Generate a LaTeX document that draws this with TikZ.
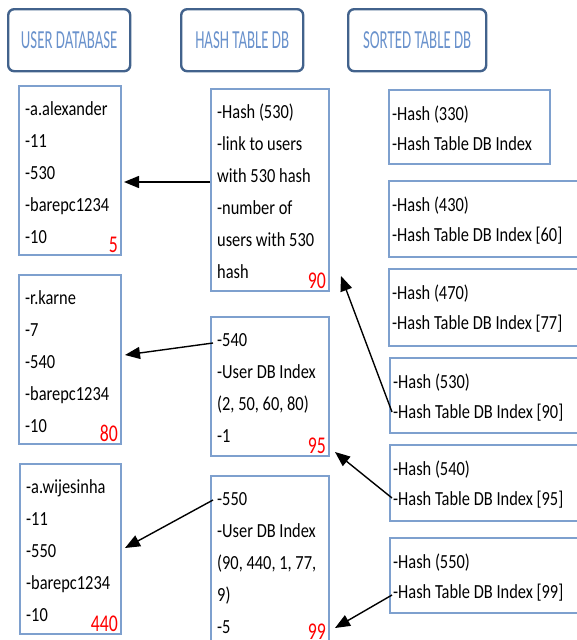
\documentclass[tikz,border=0pt]{standalone}
\usepackage{fontspec}
\setmainfont{Carlito}
\newfontfamily\boxFont[FakeStretch=0.82]{Carlito}
\newfontfamily\headFont[FakeStretch=0.57]{Carlito}
\newfontfamily\countFont[FakeStretch=0.74]{Carlito}
\usetikzlibrary{positioning,calc,arrows.meta}
\definecolor{boxColor}{RGB}{126,160,206}
\definecolor{headLine}{RGB}{66,98,140}
\definecolor{headText}{RGB}{106,146,204}
\definecolor{countColor}{RGB}{255,0,0}
\tikzstyle{headStyle} = [draw=headLine, line width=2.4pt, rounded corners=6pt, text=headText, font=\headFont\fontsize{26}{26}\selectfont, inner sep=0pt, anchor=north west]
\tikzstyle{boxStyle} = [draw=boxColor, line width=2pt, inner sep=0pt, anchor=north west]
\tikzstyle{lineText} = [anchor=north west, align=left, inner sep=0pt, font=\boxFont\fontsize{20}{32}\selectfont]
\tikzstyle{sortedText} = [lineText, font=\boxFont\fontsize{20}{30}\selectfont]
\tikzstyle{countText} = [anchor=south east, inner sep=0pt, text=countColor, font=\countFont\fontsize{24}{24}\selectfont]
\tikzstyle{linkArrow} = [-{Triangle[length=15pt,width=12pt]}, line width=1.4pt]
\newcommand{\headBox}[6]{\node [headStyle, minimum width=#4, minimum height=#5] (#1) at (#2,#3) {#6};}
\newcommand{\dbBox}[7]{
  \node [boxStyle, minimum width=#4, minimum height=#5] (#1) at (#2,#3) {};
  \node [lineText] (#1Text) at ($(#1.north west)+(7,8)$) {\strut#6};
  \node [countText] (#1Count) at ($(#1.south east)+(-4,-3)$) {#7};
}
\newcommand{\sortedBox}[6]{
  \node [boxStyle, minimum width=#4, minimum height=#5] (#1) at (#2,#3) {};
  \node [sortedText] (#1Text) at ($(#1.north west)+(4,10)$) {\strut#6};
}

\begin{document}
\begin{tikzpicture}[x=1pt, y=-1pt]
  \clip (0,0) rectangle (577,640);

  \headBox{userHead}{7}{8}{122}{62}{USER DATABASE}
  \headBox{hashHead}{180}{8}{122}{62}{HASH TABLE DB}
  \headBox{sortedHead}{347}{8}{138}{62}{SORTED TABLE DB}

  \dbBox{user1}{18}{85}{102}{169}{-a.alexander\\-11\\-530\\-barepc1234\\-10}{5}
  \dbBox{user2}{18}{274}{102}{169}{-r.karne\\-7\\-540\\-barepc1234\\-10}{80}
  \dbBox{user3}{19}{463}{101}{170}{-a.wijesinha\\-11\\-550\\-barepc1234\\-10}{440}

  \dbBox{hash1}{210}{88}{118}{202}{-Hash (530)\\-link to users\\with 530 hash\\-number of\\users with 530\\hash}{90}
  \dbBox{hash2}{210}{316}{118}{139}{-540\\-User DB Index\\(2, 50, 60, 80)\\-1}{95}
  \dbBox{hash3}{210}{475}{118}{166}{-550\\-User DB Index\\(90, 440, 1, 77,\\9)\\-5}{99}

  \sortedBox{sort1}{388}{89}{161}{74}{-Hash (330)\\-Hash Table DB Index}
  \sortedBox{sort2}{388}{180}{210}{76}{-Hash (430)\\-Hash Table DB Index [60]}
  \sortedBox{sort3}{388}{268}{210}{77}{-Hash (470)\\-Hash Table DB Index [77]}
  \sortedBox{sort4}{389}{357}{210}{75}{-Hash (530)\\-Hash Table DB Index [90]}
  \sortedBox{sort5}{389}{444}{210}{76}{-Hash (540)\\-Hash Table DB Index [95]}
  \sortedBox{sort6}{389}{537}{210}{75}{-Hash (550)\\-Hash Table DB Index [99]}

  \draw [linkArrow] ($(hash1.north west)+(0,94)$) -- ($(user1.north east)+(2,97)$);
  \draw [linkArrow] ($(hash2.north west)+(3,27)$) -- ($(user2.north east)+(3,81)$);
  \draw [linkArrow] ($(hash3.north west)+(3,25)$) -- ($(user3.north east)+(3,85)$);
  \draw [linkArrow] ($(sort4.north west)+(3,55)$) -- ($(hash1.north east)+(11,188)$);
  \draw [linkArrow] ($(sort5.north west)+(3,54)$) -- ($(hash2.north east)+(5,136)$);
  \draw [linkArrow] ($(sort6.north west)+(3,58)$) -- ($(hash3.north east)+(5,153)$);
\end{tikzpicture}
\end{document}
